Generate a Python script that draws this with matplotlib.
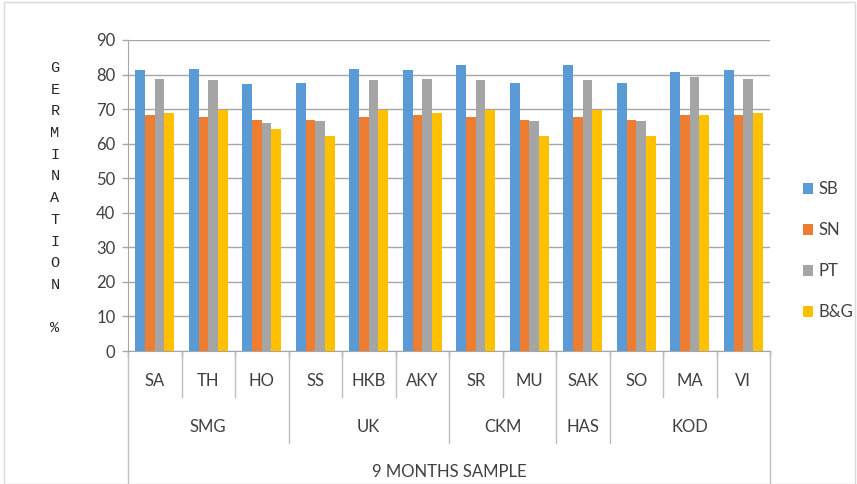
import matplotlib
matplotlib.use("Agg")
import matplotlib.pyplot as plt
from matplotlib import font_manager
from matplotlib.patches import Rectangle
import numpy as np

# ---- data ----
samples = ["SA", "TH", "HO", "SS", "HKB", "AKY", "SR", "MU", "SAK", "SO", "MA", "VI"]
districts = ["SMG", "UK", "CKM", "HAS", "KOD"]
district_sizes = [3, 3, 2, 1, 3]
outer_label = "9 MONTHS SAMPLE"
series_names = ["SB", "SN", "PT", "B&G"]
sb = [81.4, 81.6, 77.2, 77.5, 81.6, 81.4, 82.7, 77.5, 82.7, 77.5, 80.7, 81.4]
sn = [68.2, 67.8, 66.9, 66.9, 67.8, 68.2, 67.8, 66.9, 67.8, 66.9, 68.2, 68.2]
pt = [78.7, 78.5, 65.9, 66.6, 78.5, 78.7, 78.5, 66.6, 78.5, 66.6, 79.4, 78.7]
bg = [68.9, 69.8, 64.3, 62.2, 69.8, 68.9, 69.8, 62.2, 69.8, 62.2, 68.2, 68.9]
y_ticks = [0, 10, 20, 30, 40, 50, 60, 70, 80, 90]
y_label_letters = list("GERMINATION") + ["", "%"]

colors = ["#5B9BD5", "#ED7D31", "#A5A5A5", "#FFC000"]

# ---- fonts ----
installed = {f.name for f in font_manager.fontManager.ttflist}
label_font = "Lato"
for cand in ["Liberation Sans Narrow", "DejaVu Sans Condensed", "Lato"]:
    if cand in installed:
        label_font = cand
        break
fs = 12
txt_color = "#404040"
line_color = "#BFBFBF"
grid_color = "#A6A6A6"

W, H = 857, 484
fig = plt.figure(figsize=(W / 100, H / 100), dpi=100)

def px_x(x):
    return x / W

def px_y(y):
    return 1 - y / H

ax_left, ax_right, ax_top, ax_bottom = 128, 770, 40, 351
ax = fig.add_axes([px_x(ax_left), px_y(ax_bottom),
                   (ax_right - ax_left) / W, (ax_bottom - ax_top) / H])

n = len(samples)
x = np.arange(n)
bar_w = 0.18
all_series = [sb, sn, pt, bg]
for i, (vals, c, name) in enumerate(zip(all_series, colors, series_names)):
    ax.bar(x + (i - 1.5) * bar_w, vals, width=bar_w, color=c, label=name,
           zorder=3, linewidth=0)

ax.set_xlim(-0.5, n - 0.5)
ax.set_ylim(0, 90)
ax.set_yticks(y_ticks)
ax.yaxis.grid(True, color=grid_color, linewidth=1.0, zorder=0)
ax.set_axisbelow(True)
for s in ["top", "right"]:
    ax.spines[s].set_visible(False)
ax.spines["left"].set_color(grid_color)
ax.spines["bottom"].set_color(grid_color)
ax.tick_params(axis="y", colors=grid_color, length=4, width=1, pad=5,
               labelcolor=txt_color, labelsize=fs)
for lab in ax.get_yticklabels():
    lab.set_fontfamily(label_font)

ax.set_xticks(np.arange(-0.5, n, 1.0))
ax.tick_params(axis="x", colors=grid_color, length=4, width=1, labelbottom=False)

# ---- multi-level category labels ----
def fy(ypx):
    # pixel row to axes fraction
    return (ax_bottom - ypx) / (ax_bottom - ax_top)

trans = ax.get_xaxis_transform()
row1_y, row2_y, row3_y = 381, 427, 472
sep1_end, sep2_end, sep3_end = 397, 443, 484

for i, s in enumerate(samples):
    ax.text(i, fy(row1_y), s, transform=trans, ha="center", va="center",
            fontsize=fs, color=txt_color, family=label_font, clip_on=False)

bounds = np.cumsum([0] + district_sizes)
group_edges = set(bounds.tolist())
for b in range(1, n):
    end = sep2_end if b in group_edges else sep1_end
    ax.plot([b - 0.5, b - 0.5], [0, fy(end)], transform=trans, color=line_color,
            linewidth=1, clip_on=False)
for edge in [-0.5, n - 0.5]:
    ax.plot([edge, edge], [0, fy(sep3_end)], transform=trans, color=line_color,
            linewidth=1, clip_on=False)

for d, a, b in zip(districts, bounds[:-1], bounds[1:]):
    ax.text((a + b - 1) / 2, fy(row2_y), d, transform=trans, ha="center",
            va="center", fontsize=fs, color=txt_color, family=label_font,
            clip_on=False)

ax.text((n - 1) / 2, fy(row3_y), outer_label, transform=trans, ha="center",
        va="center", fontsize=fs, color=txt_color, family=label_font,
        clip_on=False)

# ---- stacked vertical axis title ----
y0, step = 68, 21.7
for k, ch in enumerate(y_label_letters):
    if not ch:
        continue
    yy = y0 + k * step if ch != "%" else 328
    fig.text(px_x(55), px_y(yy), ch, ha="center", va="center", fontsize=11,
             family="Liberation Mono", color="#262626")

# ---- legend ----
leg = fig.legend(loc="upper left", bbox_to_anchor=(px_x(795), px_y(173)),
                 frameon=False, handlelength=0.6, handleheight=0.6,
                 handletextpad=0.3, labelspacing=1.5, borderpad=0,
                 labelcolor=txt_color, prop={"family": label_font, "size": fs})

# ---- chart frame ----
fig.patches.append(Rectangle((px_x(4), 0), 1 - px_x(6), px_y(2), transform=fig.transFigure,
                             fill=False, edgecolor="#D9D9D9", linewidth=1))

fig.savefig("out.png", dpi=100)
